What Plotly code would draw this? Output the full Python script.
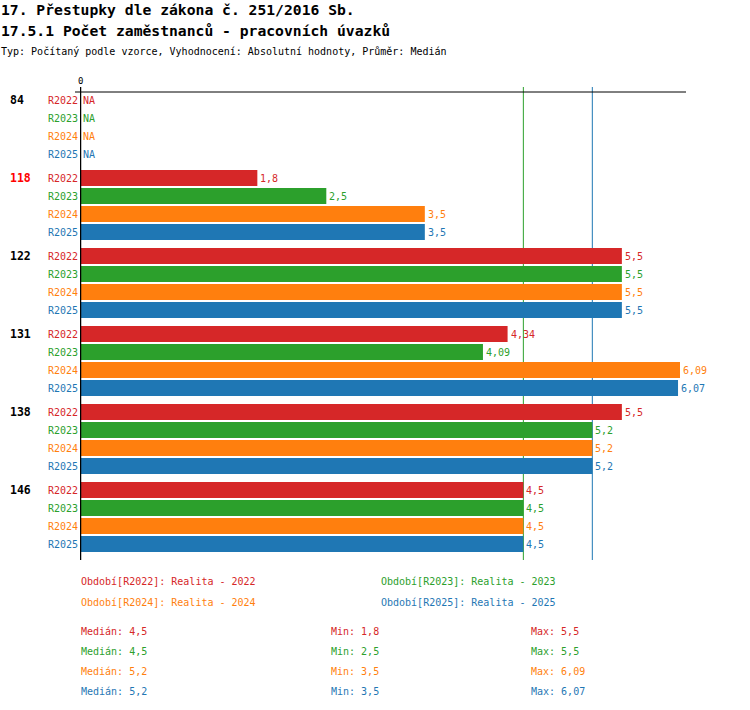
import plotly.graph_objects as go
import statistics

# data
groups = ["84", "118", "122", "131", "138", "146"]
highlight = ["118"]
periods = ["R2022", "R2023", "R2024", "R2025"]
period_names = ["Realita - 2022", "Realita - 2023", "Realita - 2024", "Realita - 2025"]
colors = ["#d62728", "#2ca02c", "#ff7f0e", "#1f77b4"]

r2022 = [None, 1.8, 5.5, 4.34, 5.5, 4.5]
r2023 = [None, 2.5, 5.5, 4.09, 5.2, 4.5]
r2024 = [None, 3.5, 5.5, 6.09, 5.2, 4.5]
r2025 = [None, 3.5, 5.5, 6.07, 5.2, 4.5]
series = [r2022, r2023, r2024, r2025]

FONT = "DejaVu Sans Mono"
W, H = 750, 710
L, T = 80, 92
R = W - 686
B = H - 560
PW, PH = W - L - R, H - T - B

ROW = 18      # row pitch within a group
GROUP = 78    # group pitch
BAR = 16


def fmt(v):
    s = ("%.2f" % v).rstrip("0").rstrip(".")
    return s.replace(".", ",")


def py(p):
    # page pixel y -> paper coordinate
    return (H - B - p) / PH


def px(p):
    return (p - L) / PW


vals = [v for s in series for v in s if v is not None]
xmax = max(vals) * 1.01


def ypos(g, b):
    return g * GROUP + b * ROW + BAR / 2


fig = go.Figure()
ann = []

for b, (name, s, c) in enumerate(zip(periods, series, colors)):
    ys = [ypos(g, b) for g in range(len(groups))]
    fig.add_trace(go.Bar(
        x=[v if v is not None else 0 for v in s], y=ys, orientation="h",
        width=BAR, marker=dict(color=c, line=dict(width=0)),
        name=name, showlegend=False, hoverinfo="skip"))
    for v, yv in zip(s, ys):
        ann.append(dict(text=fmt(v) if v is not None else "NA",
                        x=v if v is not None else 0, xref="x", y=yv, yref="y",
                        xanchor="left", yanchor="middle", xshift=2, showarrow=False,
                        font=dict(family=FONT, size=10, color=c)))

shapes = []
# median lines (behind bars); later series win where medians coincide
med_color = {}
for s, c in zip(series, colors):
    med_color[statistics.median([v for v in s if v is not None])] = c
for med, c in med_color.items():
    shapes.append(dict(type="line", xref="x", yref="paper", x0=med, x1=med,
                       y0=0, y1=py(87), line=dict(color=c, width=1), layer="below"))
# axis lines
shapes.append(dict(type="line", xref="paper", yref="paper", x0=px(75), x1=1,
                   y0=1, y1=1, line=dict(color="black", width=1)))
shapes.append(dict(type="line", xref="x", yref="paper", x0=0, x1=0,
                   y0=0, y1=py(87), line=dict(color="black", width=2.5)))

ann.append(dict(text="0", x=0, xref="x", y=py(81), yref="paper", showarrow=False,
                font=dict(family=FONT, size=9, color="black"), xanchor="center", yanchor="middle"))
# titles
ann.append(dict(text="<b>17. Přestupky dle zákona č. 251/2016 Sb.</b>", x=px(0), y=py(10),
                xref="paper", yref="paper", showarrow=False, xanchor="left", yanchor="middle",
                font=dict(family=FONT, size=14.7, color="black")))
ann.append(dict(text="<b>17.5.1 Počet zaměstnanců - pracovních úvazků</b>", x=px(0), y=py(30),
                xref="paper", yref="paper", showarrow=False, xanchor="left", yanchor="middle",
                font=dict(family=FONT, size=14.7, color="black")))
ann.append(dict(text="Typ: Počítaný podle vzorce, Vyhodnocení: Absolutní hodnoty, Průměr: Medián",
                x=px(0), y=py(51), xref="paper", yref="paper", showarrow=False,
                xanchor="left", yanchor="middle", font=dict(family=FONT, size=10, color="black")))

# row labels
for g, grp in enumerate(groups):
    ann.append(dict(text="<b>%s</b>" % grp, x=px(9), xref="paper", y=ypos(g, 0), yref="y",
                    showarrow=False, xanchor="left", yanchor="middle",
                    font=dict(family=FONT, size=11.5,
                              color="#ff0000" if grp in highlight else "black")))
    for b, (name, c) in enumerate(zip(periods, colors)):
        ann.append(dict(text=name, x=px(79), xref="paper", y=ypos(g, b), yref="y",
                        showarrow=False, xanchor="right", yanchor="middle",
                        font=dict(family=FONT, size=10, color=c)))

# legend
leg_x = [80, 380, 80, 380]
leg_y = [581, 581, 602, 602]
for name, pname, c, lx, ly in zip(periods, period_names, colors, leg_x, leg_y):
    ann.append(dict(text="Období[%s]: %s" % (name, pname), x=px(lx), y=py(ly),
                    xref="paper", yref="paper", showarrow=False, xanchor="left",
                    yanchor="middle", font=dict(family=FONT, size=10, color=c)))

# statistics
for i, (s, c) in enumerate(zip(series, colors)):
    v = [x for x in s if x is not None]
    yy = py(631 + i * 20)
    for lx, txt in [(80, "Medián: " + fmt(statistics.median(v))),
                    (330, "Min: " + fmt(min(v))),
                    (530, "Max: " + fmt(max(v)))]:
        ann.append(dict(text=txt, x=px(lx), y=yy, xref="paper", yref="paper",
                        showarrow=False, xanchor="left", yanchor="middle",
                        font=dict(family=FONT, size=10, color=c)))

for a in ann:
    a["borderpad"] = 0

fig.update_layout(
    width=W, height=H, margin=dict(l=L, r=R, t=T, b=B, pad=0),
    paper_bgcolor="white", plot_bgcolor="white",
    barmode="overlay", shapes=shapes, annotations=ann,
    xaxis=dict(range=[0, xmax], visible=False, fixedrange=True),
    yaxis=dict(range=[len(groups) * GROUP, 0], visible=False, fixedrange=True),
    font=dict(family=FONT),
)

# drop the browser's default body margin so the figure sits at the page corner
fig.write_html("out.html", config={"displayModeBar": False},
               post_script="document.body.style.margin='0';")
